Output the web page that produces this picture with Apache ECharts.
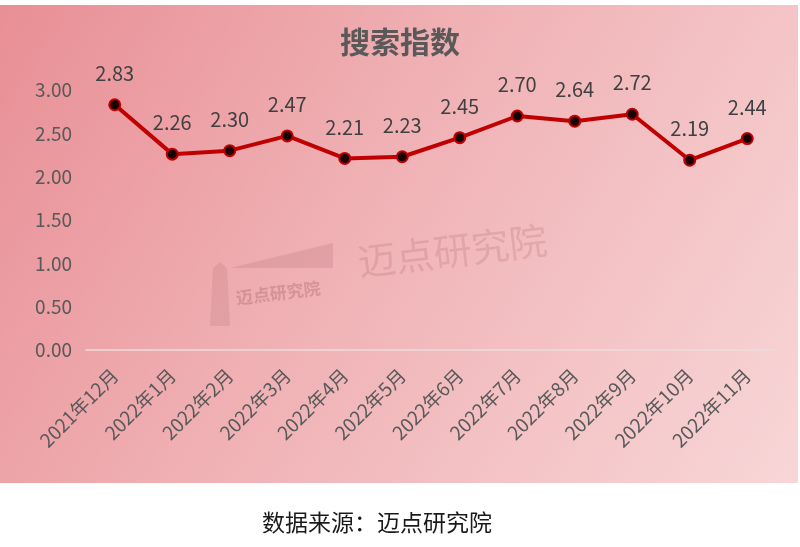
<!DOCTYPE html>
<html><head><meta charset="utf-8">
<script src="https://cdn.jsdelivr.net/npm/echarts@6/dist/echarts.min.js"></script>
<style>html,body{margin:0;padding:0;background:#fff;}#c{width:800px;height:547px;}</style>
</head><body><div id="c"></div>
<script>
const categories = ['2021年12月','2022年1月','2022年2月','2022年3月','2022年4月','2022年5月','2022年6月','2022年7月','2022年8月','2022年9月','2022年10月','2022年11月'];
const searchIndex = [2.83, 2.26, 2.30, 2.47, 2.21, 2.23, 2.45, 2.70, 2.64, 2.72, 2.19, 2.44];
const titleText = '搜索指数';
const sourceText = '数据来源：迈点研究院';
const watermark = '迈点研究院';

const font = '"Noto Sans CJK SC", "Open Sans", sans-serif';
const chart = echarts.init(document.getElementById('c'));
chart.setOption({
  animation: false,
  graphic: [
    { type: 'rect', z: -10, silent: true,
      shape: { x: 0, y: 5, width: 798, height: 478 },
      style: { fill: new echarts.graphic.LinearGradient(0, 0, 1, 1, [
        { offset: 0, color: '#e88f95' },
        { offset: 0.4, color: '#efaeb2' },
        { offset: 1, color: '#f8d6d7' }
      ]) } },
    { type: 'polygon', z: -5, silent: true,
      shape: { points: [[230, 268], [333, 243], [333, 268]] },
      style: { fill: 'rgba(190,120,125,0.28)' } },
    { type: 'polygon', z: -5, silent: true,
      shape: { points: [[210, 326], [213, 268], [220, 262], [227, 268], [230, 326]] },
      style: { fill: 'rgba(190,120,125,0.25)' } },
    { type: 'text', z: -5, silent: true, x: 236, y: 298, rotation: 0.12,
      style: { text: watermark, font: 'bold 17px ' + font, fill: 'rgba(170,100,105,0.38)', textVerticalAlign: 'middle' } },
    { type: 'text', z: -5, silent: true, x: 358, y: 262, rotation: 0.12,
      style: { text: watermark, font: '38px ' + font, fill: 'rgba(190,120,125,0.3)', textVerticalAlign: 'middle' } },
    { type: 'text', x: 377, y: 522,
      style: { text: sourceText, font: '23px ' + font, fill: '#1a1a1a', textAlign: 'center', textVerticalAlign: 'middle' } }
  ],
  title: {
    text: titleText, left: 'center', top: 22,
    textStyle: { fontFamily: font, fontSize: 30, fontWeight: 'bold', color: '#595959' }
  },
  grid: { left: 86, right: 24, top: 90, bottom: 197 },
  xAxis: {
    type: 'category', data: categories, boundaryGap: true,
    axisLine: { lineStyle: { color: '#ecdcdc', width: 1.5 } },
    axisTick: { inside: true, length: 6, lineStyle: { color: '#ecdcdc' } },
    axisLabel: { rotate: 45, interval: 0, margin: 22, fontFamily: font, fontSize: 19, color: '#595959' }
  },
  yAxis: {
    type: 'value', min: 0, max: 3, interval: 0.5,
    splitLine: { show: false },
    axisLine: { show: false }, axisTick: { show: false },
    axisLabel: { margin: 14, fontFamily: font, fontSize: 19, color: '#595959',
      formatter: v => v.toFixed(2) }
  },
  series: [{
    type: 'line', data: searchIndex,
    lineStyle: { color: '#c00000', width: 4 },
    symbol: 'circle', symbolSize: 11,
    itemStyle: { color: '#1a0000', borderColor: '#c00000', borderWidth: 2 },
    label: { show: true, position: 'top', distance: 15, fontFamily: font, fontSize: 20, color: '#404040',
      formatter: p => p.value.toFixed(2) }
  }]
});
</script></body></html>
